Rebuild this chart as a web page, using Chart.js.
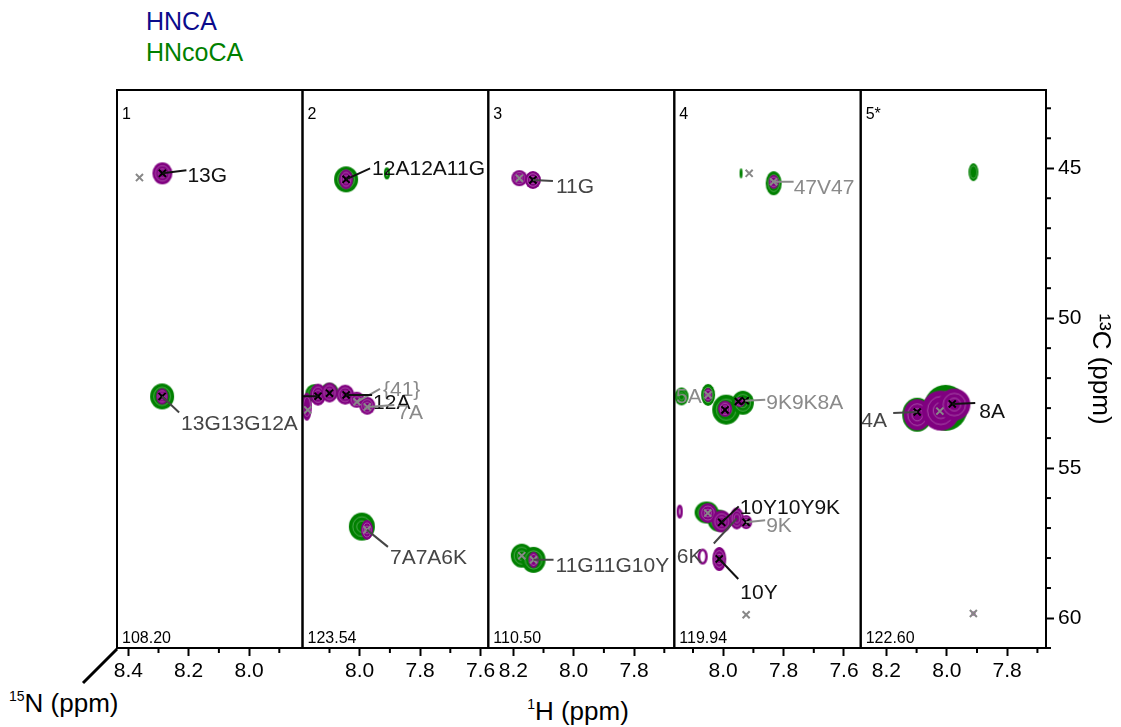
<!DOCTYPE html>
<html><head><meta charset="utf-8">
<script src="https://cdn.jsdelivr.net/npm/chart.js@4.4.0/dist/chart.umd.min.js"></script>
<style>
html,body{margin:0;padding:0;background:#fff}
body{width:1121px;height:727px;overflow:hidden;position:relative;font-family:'Liberation Sans',Arial,Helvetica,sans-serif}
.pane{position:absolute;top:70px}
.txt{position:absolute;line-height:1;white-space:nowrap}
.sup{position:relative;font-size:14px;top:-11px}
</style></head><body>
<div class="txt" style="left:146px;top:9px;font-size:25px;color:#0b0b8c">HNCA</div>
<div class="txt" style="left:146px;top:40px;font-size:25px;color:#008000">HNcoCA</div>
<div class="txt" style="left:478px;top:698px;width:200px;text-align:center;font-size:26px"><span class="sup">1</span>H (ppm)</div>
<div class="txt" style="left:9px;top:690px;font-size:26px"><span class="sup">15</span>N (ppm)</div>
<svg style="position:absolute;left:0;top:0" width="1121" height="727"><line x1="83" y1="683" x2="117" y2="649" stroke="#000" stroke-width="3"/></svg>
<div id="panes"></div>
<script>
// ---------------- data ----------------
const panelIds = ['1', '2', '3', '4', '5*'];
const n15Shifts = ['108.20', '123.54', '110.50', '119.94', '122.60'];

// HNcoCA peaks (green contours): strip, 1H ppm, 13C ppm
const coPanel = [1, 2, 2, 2, 2, 2, 3, 3, 4, 4, 4, 4, 4, 4, 4, 4, 5, 5, 5];
const coH = [8.288, 8.045, 7.910, 8.150, 8.100, 7.993, 8.172, 8.133, 7.941, 7.833, 8.138, 8.050, 7.990, 7.935, 8.055, 8.015, 7.912, 8.098, 8.004];
const coC = [52.61, 45.37, 45.17, 52.50, 52.45, 56.95, 57.92, 58.06, 45.17, 45.50, 52.61, 52.56, 53.05, 52.82, 56.48, 56.75, 45.13, 53.22, 52.99];

// HNCA peaks (purple contours)
const caPanel = [1, 1, 2, 2, 2, 2, 2, 2, 2, 2, 3, 3, 3, 4, 4, 4, 4, 4, 4, 4, 4, 4, 4, 4, 5, 5, 5, 5];
const caH = [8.287, 8.288, 8.045, 8.175, 8.138, 8.100, 8.048, 8.010, 7.975, 7.976, 8.180, 8.135, 8.133, 7.833, 8.050, 7.994, 7.945, 8.144, 8.051, 8.005, 7.955, 7.924, 8.068, 8.013, 8.098, 8.020, 7.975, 7.912];
const caC = [45.17, 52.61, 45.37, 52.95, 52.55, 52.48, 52.55, 52.72, 52.92, 57.06, 45.33, 45.39, 58.06, 45.45, 52.56, 53.02, 52.80, 56.45, 56.50, 56.78, 56.68, 56.80, 57.95, 58.03, 53.22, 53.08, 52.88, 59.85];

// assigned peak markers (black x)
const asgPanel = [1, 1, 2, 2, 2, 2, 3, 4, 4, 4, 4, 4, 4, 5, 5];
const asgH = [8.287, 8.288, 8.045, 8.138, 8.100, 8.045, 8.135, 7.994, 7.950, 7.927, 8.005, 7.924, 8.013, 8.098, 7.982];
const asgC = [45.17, 52.61, 45.37, 52.60, 52.50, 52.56, 45.39, 53.06, 52.78, 52.75, 56.81, 56.81, 58.03, 53.13, 52.86];

// other peak markers (grey x)
const othPanel = [1, 2, 2, 2, 2, 3, 3, 3, 4, 4, 4, 4, 4, 5, 5];
const othH = [8.363, 8.172, 8.009, 7.975, 7.976, 8.180, 8.172, 8.133, 7.914, 7.833, 8.050, 8.051, 7.924, 8.023, 7.912];
const othC = [45.31, 53.06, 52.79, 52.96, 57.06, 45.33, 57.92, 58.06, 45.17, 45.45, 52.56, 56.50, 59.89, 53.10, 59.85];

// peak labels
const lblPanel = [1, 1, 2, 2, 2, 2, 2, 2, 3, 3, 4, 4, 4, 4, 4, 4, 4, 5, 5];
const lblText = ['13G', '13G13G12A', '12A12A11G', '', '{41}', '12A', '7A', '7A7A6K', '11G', '11G11G10Y', '47V47', '5A', '9K9K8A', '10Y10Y9K', '9K', '6K', '10Y', '4A', '8A'];
const lblH = [8.287, 8.288, 8.045, 8.138, 8.009, 8.045, 7.975, 7.976, 8.135, 8.133, 7.833, 8.050, 7.927, 8.005, 7.924, 7.955, 8.013, 8.098, 7.982];
const lblC = [45.17, 52.61, 45.37, 52.60, 52.79, 52.56, 52.96, 57.06, 45.39, 58.06, 45.45, 52.56, 52.75, 56.81, 56.81, 56.68, 58.03, 53.13, 52.86];

// ---------------- styles / layout ----------------
const coShape = [[24,26],[24,26],[6,12,'ring'],[18,18],[18,18],[26,28],[22,24],[24,26],[3,10,'solid'],[16,24],[14,18],[14,22],[28,30],[22,24],[24,22],[22,22],[10,18],[30,34],[44,46]];
const caShape = [[20,22],[12,16],[14,20],[10,28],[16,22],[16,20],[18,20],[16,16],[16,18],[12,20],[16,16],[16,18],[10,16],[10,14],[8,14],[14,16],[10,10],[6,14,'ring'],[18,20],[20,22],[14,22],[12,14],[10,16,'ring'],[14,24],[27,31],[38,40],[32,32],[4,4,'solid']];
// [textDx, textDy, leaderDx, leaderDy, colourKey]
const lblStyle = [[25,3,24,-3,'k'],[19,28,17,16,'d'],[26,-10,24,-11,'k'],[0,0,-30,0,'k'],[26,-12,23,-13,'g'],[27,8,26,0,'k'],[30,6,27,-2,'g'],[23,28,21,17,'d'],[23,7,20,1,'d'],[22,6,20,0,'d'],[20,6,20,0,'g'],[-32,2,null,null,'g'],[21,3,20,-1,'g'],[18,-14,17,-16,'k'],[20,4,19,-2,'g'],[-60,39,-23,25,'d'],[21,34,19,20,'k'],[-56,9,-24,1,'d'],[27,8,23,-1,'k']];
const lblColours = {k: '#111111', d: '#454545', g: '#8a8a8a'};
const GREEN = '#008000', PURPLE = '#800080';

const FONT = "'Liberation Sans', Arial, Helvetica, sans-serif";
Chart.defaults.font.family = FONT;
Chart.defaults.color = '#000';

const edges = [117, 302.5, 488.3, 674.3, 860.7, 1046];
const PX_PER_PPM = 302;
const hLeft = [8.4374, 8.1894, 8.2828, 8.1619, 8.2851];
const cTop = 42.39, cBottom = 61.0;
const CANVAS_TOP = 70, PAD_TOP = 20, X_AXIS_H = 40, AREA_BOTTOM = 648;

function isMult(v, step) { const r = v / step; return Math.abs(r - Math.round(r)) < 1e-6; }

function blobImage(shape, color) {
  const [w, h, kind] = shape;
  const c = document.createElement('canvas');
  c.width = Math.ceil(w) + 4; c.height = Math.ceil(h) + 4;
  const g = c.getContext('2d');
  const cx = c.width / 2, cy = c.height / 2;
  const ell = (rx, ry) => { g.beginPath(); g.ellipse(cx, cy, Math.max(rx, 0.5), Math.max(ry, 0.5), 0, 0, Math.PI * 2); };
  if (kind === 'ring') { g.strokeStyle = color; g.lineWidth = 2.5; ell(w / 2 - 1.2, h / 2 - 1.2); g.stroke(); return c; }
  g.fillStyle = color; ell(w / 2, h / 2); g.fill();
  if (kind === 'solid') return c;
  g.strokeStyle = 'rgba(255,255,255,0.3)'; g.lineWidth = 1;
  [0.7, 0.4].forEach(f => { if (w * f > 4) { ell(w / 2 * f, h / 2 * f); g.stroke(); } });
  return c;
}

function pick(panelArr, p) { return panelArr.map((q, i) => q === p ? i : -1).filter(i => i >= 0); }

const stripPlugin = {
  id: 'strip',
  afterDatasetsDraw(chart) {
    const p = chart.options.plugins.strip.panel;
    const {ctx, chartArea: a, scales: {x, y}} = chart;
    ctx.save();
    ctx.beginPath(); ctx.rect(a.left, a.top, a.width, a.height); ctx.clip();
    ctx.font = '21px ' + FONT; ctx.textBaseline = 'middle'; ctx.textAlign = 'left';
    pick(lblPanel, p + 1).forEach(i => {
      const [tx, ty, lx, ly, ck] = lblStyle[i];
      const px = x.getPixelForValue(lblH[i]), py = y.getPixelForValue(lblC[i]);
      ctx.strokeStyle = ctx.fillStyle = lblColours[ck];
      if (lx !== null) { ctx.lineWidth = 2; ctx.beginPath(); ctx.moveTo(px, py); ctx.lineTo(px + lx, py + ly); ctx.stroke(); }
      if (lblText[i]) ctx.fillText(lblText[i], px + tx, py + ty);
    });
    ctx.restore();
  },
  afterDraw(chart) {
    const p = chart.options.plugins.strip.panel;
    const {ctx, chartArea: a, scales: {x, y}} = chart;
    ctx.save();
    ctx.strokeStyle = '#000'; ctx.lineWidth = 2;
    ctx.strokeRect(a.left, a.top, a.width, a.height);
    x.ticks.forEach(t => {
      if (!isMult(t.value, 0.2)) { const px = x.getPixelForValue(t.value); ctx.beginPath(); ctx.moveTo(px, a.bottom); ctx.lineTo(px, a.bottom + 5); ctx.stroke(); }
    });
    if (y.options.display) {
      y.ticks.forEach(t => {
        if (!isMult(t.value, 5)) { const py = y.getPixelForValue(t.value); ctx.beginPath(); ctx.moveTo(a.right, py); ctx.lineTo(a.right + 5, py); ctx.stroke(); }
      });
    }
    ctx.fillStyle = '#000'; ctx.font = '16px ' + FONT; ctx.textBaseline = 'alphabetic'; ctx.textAlign = 'left';
    ctx.fillText(panelIds[p], a.left + 5, a.top + 29);
    ctx.fillText(n15Shifts[p], a.left + 5, a.bottom - 5);
    ctx.restore();
  }
};

const holder = document.getElementById('panes');
for (let p = 0; p < 5; p++) {
  const L = edges[p], R = edges[p + 1];
  const last = p === 4;
  const cLeft = Math.floor(L) - 30;
  const cRight = last ? 1121 : Math.ceil(R) + 30;
  const W = cRight - cLeft, H = AREA_BOTTOM - CANVAS_TOP + X_AXIS_H;
  const padL = L - cLeft, padR = last ? 0 : cRight - R;
  const yAxisW = last ? cRight - R : 0;
  const hMax = hLeft[p], hMin = hLeft[p] - (R - L) / PX_PER_PPM;

  const div = document.createElement('div');
  div.className = 'pane'; div.style.left = cLeft + 'px';
  div.style.width = W + 'px'; div.style.height = H + 'px';
  const cv = document.createElement('canvas');
  cv.width = W; cv.height = H; cv.style.width = W + 'px'; cv.style.height = H + 'px';
  div.appendChild(cv); holder.appendChild(div);

  const ia = pick(asgPanel, p + 1), io = pick(othPanel, p + 1), ic = pick(caPanel, p + 1), ig = pick(coPanel, p + 1);
  new Chart(cv, {
    type: 'scatter',
    data: {
      datasets: [
        {label: 'assigned', data: ia.map(i => ({x: asgH[i], y: asgC[i]})), pointStyle: 'crossRot', pointRadius: 5, borderColor: '#000', borderWidth: 2, backgroundColor: 'transparent', clip: 0},
        {label: 'other', data: io.map(i => ({x: othH[i], y: othC[i]})), pointStyle: 'crossRot', pointRadius: 5, borderColor: '#888', borderWidth: 2, backgroundColor: 'transparent', clip: 0},
        {label: 'HNCA', data: ic.map(i => ({x: caH[i], y: caC[i]})), pointStyle: ic.map(i => blobImage(caShape[i], PURPLE)), pointRadius: 2, clip: 0},
        {label: 'HNcoCA', data: ig.map(i => ({x: coH[i], y: coC[i]})), pointStyle: ig.map(i => blobImage(coShape[i], GREEN)), pointRadius: 2, clip: 0}
      ]
    },
    options: {
      responsive: false, animation: false, events: [],
      layout: {padding: {left: padL, right: padR, top: PAD_TOP, bottom: 0}},
      plugins: {legend: {display: false}, tooltip: {enabled: false}, strip: {panel: p}},
      scales: {
        x: {
          type: 'linear', min: hMin, max: hMax, reverse: true,
          afterFit: s => { s.height = X_AXIS_H; },
          border: {display: false},
          grid: {drawOnChartArea: false, drawTicks: true, tickLength: 8, tickWidth: 2,
                 tickColor: c => (c.tick && isMult(c.tick.value, 0.2)) ? '#000' : 'rgba(0,0,0,0)'},
          ticks: {stepSize: 0.1, includeBounds: false, autoSkip: false, maxRotation: 0, minRotation: 0, padding: 3,
                  font: {size: 21}, color: '#000',
                  callback: v => isMult(v, 0.2) ? v.toFixed(1) : ''}
        },
        y: {
          type: 'linear', min: cTop, max: cBottom, reverse: true,
          display: last, position: 'right',
          afterFit: s => { if (last) s.width = yAxisW; },
          border: {display: false},
          grid: {drawOnChartArea: false, drawTicks: true, tickLength: 8, tickWidth: 2,
                 tickColor: c => (c.tick && isMult(c.tick.value, 5)) ? '#000' : 'rgba(0,0,0,0)'},
          ticks: {stepSize: 1, includeBounds: false, autoSkip: false, padding: 4, font: {size: 21}, color: '#000',
                  callback: v => isMult(v, 5) ? String(Math.round(v)) : ''},
          title: {display: true, text: '\u00B9\u00B3C (ppm)', font: {size: 26}, color: '#000', padding: {top: 5, bottom: 0}}
        }
      }
    },
    plugins: [stripPlugin]
  });
}
</script>
</body></html>
